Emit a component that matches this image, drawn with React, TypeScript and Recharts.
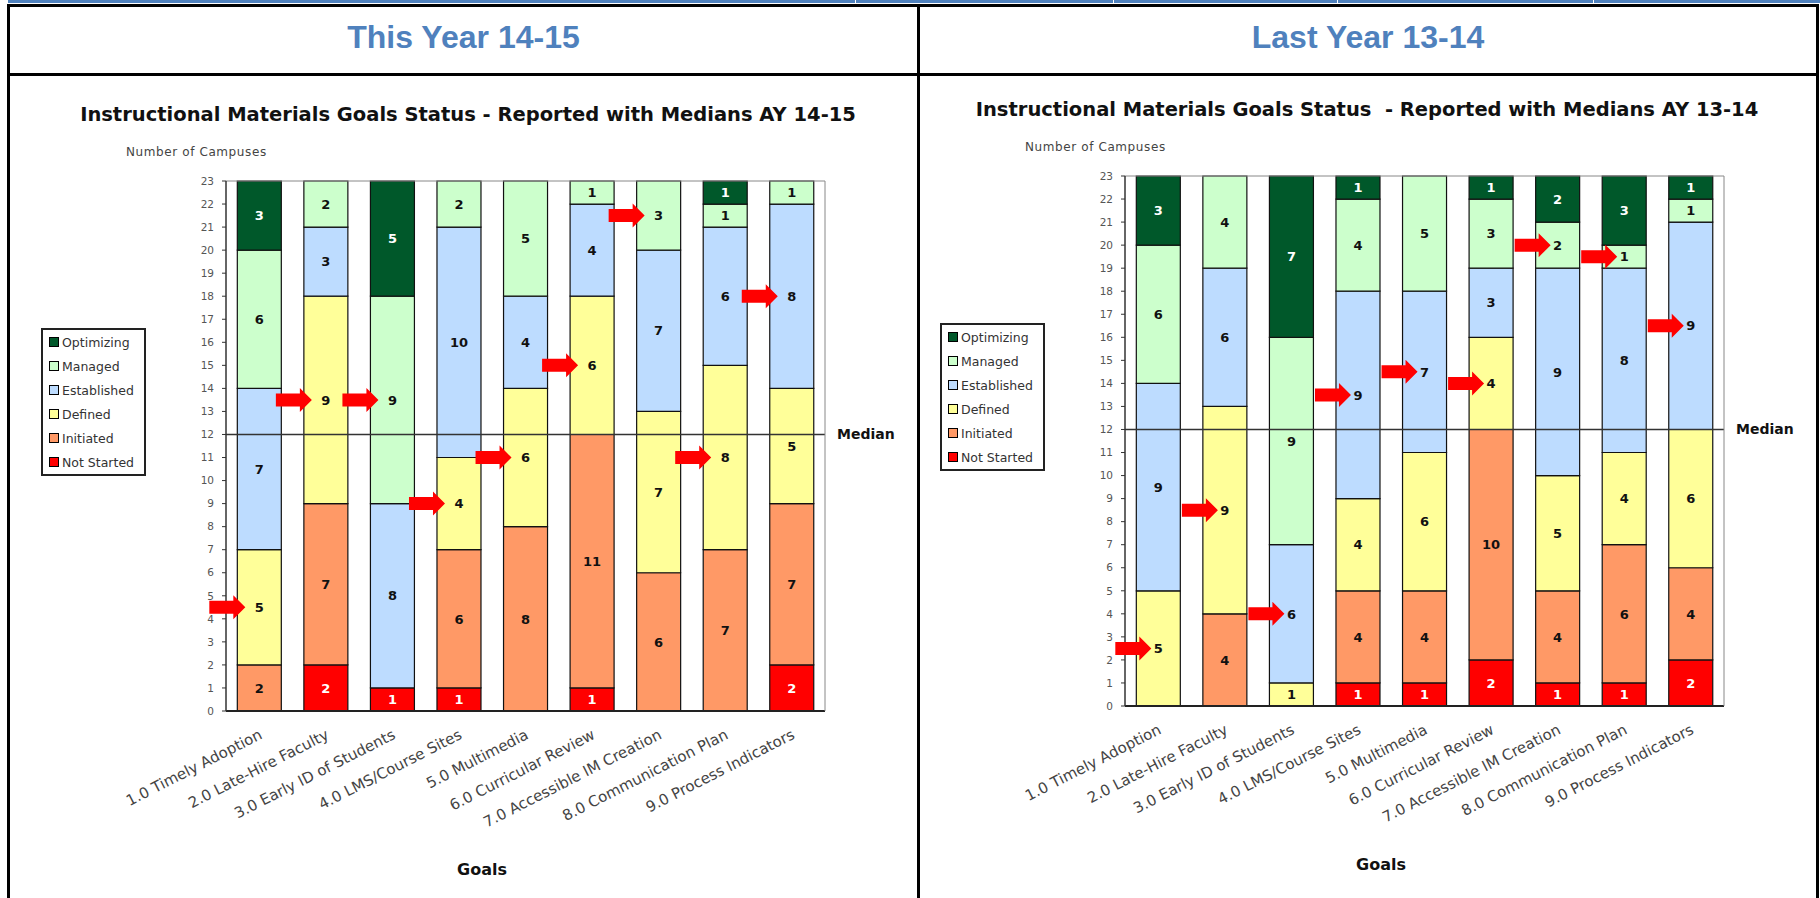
import React from 'react';
import { BarChart, Bar, XAxis, YAxis, Legend, ReferenceLine, LabelList } from 'recharts';

// goals on the x axis (same for both years)
const goals = [
  '1.0 Timely Adoption',
  '2.0 Late-Hire Faculty',
  '3.0 Early ID of Students',
  '4.0 LMS/Course Sites',
  '5.0 Multimedia',
  '6.0 Curricular Review',
  '7.0 Accessible IM Creation',
  '8.0 Communication Plan',
  '9.0 Process Indicators',
];

// AY 14-15
const notStarted1415 = [0, 2, 1, 1, 0, 1, 0, 0, 2];
const initiated1415 = [2, 7, 0, 6, 8, 11, 6, 7, 7];
const defined1415 = [5, 9, 0, 4, 6, 6, 7, 8, 5];
const established1415 = [7, 3, 8, 10, 4, 4, 7, 6, 8];
const managed1415 = [6, 2, 9, 2, 5, 1, 3, 1, 1];
const optimizing1415 = [3, 0, 5, 0, 0, 0, 0, 1, 0];
const medians1415 = ['Defined', 'Defined', 'Managed', 'Defined', 'Defined', 'Defined', 'Managed', 'Defined', 'Established'];

// AY 13-14
const notStarted1314 = [0, 0, 0, 1, 1, 2, 1, 1, 2];
const initiated1314 = [0, 4, 0, 4, 4, 10, 4, 6, 4];
const defined1314 = [5, 9, 1, 4, 6, 4, 5, 4, 6];
const established1314 = [9, 6, 6, 9, 7, 3, 9, 8, 9];
const managed1314 = [6, 4, 9, 4, 5, 3, 2, 1, 1];
const optimizing1314 = [3, 0, 7, 1, 0, 1, 2, 3, 1];
const medians1314 = ['Defined', 'Defined', 'Established', 'Established', 'Established', 'Defined', 'Managed', 'Managed', 'Established'];

const yTicks = [0, 1, 2, 3, 4, 5, 6, 7, 8, 9, 10, 11, 12, 13, 14, 15, 16, 17, 18, 19, 20, 21, 22, 23];
const medianValue = 12;

const FONT = '"DejaVu Sans", Verdana, sans-serif';

const seriesStyle = [
  { key: 'notStarted', name: 'Not Started', fill: '#FF0000', text: '#FFFFFF' },
  { key: 'initiated', name: 'Initiated', fill: '#FF9966', text: '#111111' },
  { key: 'defined', name: 'Defined', fill: '#FFFF99', text: '#111111' },
  { key: 'established', name: 'Established', fill: '#BDDCFF', text: '#111111' },
  { key: 'managed', name: 'Managed', fill: '#CCFFCC', text: '#111111' },
  { key: 'optimizing', name: 'Optimizing', fill: '#00582A', text: '#FFFFFF' },
];

const buildRows = (ns: number[], ini: number[], def: number[], est: number[], man: number[], opt: number[], med: string[]) =>
  goals.map((goal, i) => ({
    goal,
    notStarted: ns[i],
    initiated: ini[i],
    defined: def[i],
    established: est[i],
    managed: man[i],
    optimizing: opt[i],
    median: med[i],
  }));

const rows1415 = buildRows(notStarted1415, initiated1415, defined1415, established1415, managed1415, optimizing1415, medians1415);
const rows1314 = buildRows(notStarted1314, initiated1314, defined1314, established1314, managed1314, optimizing1314, medians1314);
const boundaryTicks = goals.map((_, i) => i).concat(goals.length);

// value comes in as "count|arrowFlag"
const SegmentLabel = (props: any) => {
  const { value, arrowGap, color } = props;
  const [count, flag] = String(value).split('|');
  if (!count || count === '0') return null;
  const vb = props.viewBox && props.viewBox.width != null ? props.viewBox : props;
  const cx = vb.x + vb.width / 2;
  const cy = vb.y + vb.height / 2;
  const tip = cx - arrowGap;
  return (
    <g>
      {flag === '1' && (
        <polygon
          points={`${tip - 36},${cy - 6.5} ${tip - 12},${cy - 6.5} ${tip - 12},${cy - 12} ${tip},${cy} ${tip - 12},${cy + 12} ${tip - 12},${cy + 6.5} ${tip - 36},${cy + 6.5}`}
          fill="#FF0000"
        />
      )}
      <text x={cx} y={cy} dy="0.36em" textAnchor="middle" fill={color} fontSize={13} fontWeight="bold" fontFamily={FONT}>
        {count}
      </text>
    </g>
  );
};

const GoalTick = ({ x, y, payload }: any) => (
  <text transform={`translate(${x + 4},${y + 26}) rotate(-27)`} textAnchor="end" fontSize={15} fill="#444" fontFamily={FONT}>
    {payload.value}
  </text>
);

const renderLegend = () => {
  const items = [...seriesStyle].reverse();
  return (
    <div style={{ border: '2px solid #222', background: '#fff', width: 105, boxSizing: 'border-box', paddingLeft: 6 }}>
      {items.map((it) => (
        <div key={it.key} style={{ display: 'flex', alignItems: 'center', height: 24, fontSize: 12.5, color: '#333', fontFamily: FONT }}>
          <span style={{ width: 8, height: 8, border: '1px solid #000', background: it.fill, marginRight: 3, display: 'inline-block' }} />
          {it.name}
        </div>
      ))}
    </div>
  );
};

const Panel = ({ left, top, title, rows, arrowGap }: any) => (
  <div style={{ position: 'absolute', left, top, width: 900, height: 898 }}>
    <div style={{ position: 'absolute', left: 0, width: 936, top: 103, lineHeight: '24px', textAlign: 'center', fontFamily: FONT, fontSize: 19.5, fontWeight: 'bold', color: '#111', whiteSpace: 'pre' }}>
      {title}
    </div>
    <div style={{ position: 'absolute', left: 126, top: 144, lineHeight: '16px', fontFamily: FONT, fontSize: 12, letterSpacing: 0.6, color: '#444' }}>
      Number of Campuses
    </div>
    <div style={{ position: 'absolute', left: 5, top: 77 }}>
      <BarChart width={900} height={816} data={rows} margin={{ top: 104, right: 79, left: 191, bottom: 61 }} barCategoryGap="17%">
        <XAxis xAxisId={0} type="number" domain={[0, goals.length]} ticks={boundaryTicks} tick={false} height={1} tickSize={6} axisLine={{ stroke: '#222', strokeWidth: 2 }} tickLine={{ stroke: '#222', strokeWidth: 1.5 }} />
        <XAxis xAxisId={1} dataKey="goal" interval={0} height={120} tick={<GoalTick />} tickSize={0} tickMargin={0} axisLine={false} tickLine={false} />
        <YAxis domain={[0, 23]} ticks={yTicks} interval={0} width={30} tickSize={4} tickMargin={8} tick={{ fontSize: 10.5, fill: '#555', fontFamily: FONT }} axisLine={{ stroke: '#333', strokeWidth: 1.5 }} tickLine={{ stroke: '#333' }} />
        <YAxis yAxisId="frame" orientation="right" domain={[0, 23]} width={1} tick={false} tickLine={false} axisLine={{ stroke: '#888' }} />
        <ReferenceLine y={23} stroke="#888" />
        <Legend layout="vertical" align="center" verticalAlign="middle" content={renderLegend} wrapperStyle={{ left: 36, top: 251, width: 105, height: 'auto' }} />
        {seriesStyle.map((s) => (
          <Bar key={s.key} xAxisId={1} dataKey={s.key} name={s.name} stackId="status" fill={s.fill} stroke="#111" strokeWidth={1.2} isAnimationActive={false}>
            <LabelList
              dataKey={(row: any) => `${row[s.key]}|${row.median === s.name ? 1 : 0}`}
              content={(p: any) => <SegmentLabel {...p} arrowGap={arrowGap} color={s.text} />}
            />
          </Bar>
        ))}
        <ReferenceLine
          y={medianValue}
          stroke="#333"
          strokeWidth={1.5}
          label={{ value: 'Median', position: 'right', offset: 12, fill: '#111', fontSize: 14, fontWeight: 'bold', fontFamily: FONT }}
        />
      </BarChart>
    </div>
    <div style={{ position: 'absolute', left: 432, width: 100, top: 860, lineHeight: '20px', textAlign: 'center', fontFamily: FONT, fontSize: 16, fontWeight: 'bold', color: '#111' }}>
      Goals
    </div>
  </div>
);

const line = (style: React.CSSProperties) => <div style={{ position: 'absolute', background: '#000', ...style }} />;

export default function App() {
  return (
    <div style={{ position: 'absolute', left: 0, top: 0, width: 1820, height: 898, background: '#fff', overflow: 'hidden' }}>
      <div style={{ position: 'absolute', left: 8, top: 0, width: 1812, height: 3, background: '#4F81BD' }} />
      {[855, 1113, 1337, 1593].map((x) => (
        <div key={x} style={{ position: 'absolute', left: x, top: 0, width: 1, height: 3, background: '#fff' }} />
      ))}

      <div style={{ position: 'absolute', left: 10, width: 907, top: 17, lineHeight: '40px', textAlign: 'center', fontFamily: '"Liberation Sans", Arial, sans-serif', fontSize: 32, fontWeight: 'bold', color: '#4F81BD' }}>
        This Year 14-15
      </div>
      <div style={{ position: 'absolute', left: 920, width: 896, top: 17, lineHeight: '40px', textAlign: 'center', fontFamily: '"Liberation Sans", Arial, sans-serif', fontSize: 32, fontWeight: 'bold', color: '#4F81BD' }}>
        Last Year 13-14
      </div>

      <Panel left={0} top={0} title="Instructional Materials Goals Status - Reported with Medians AY 14-15" rows={rows1415} arrowGap={14} />
      <Panel left={899} top={-5} title="Instructional Materials Goals Status  - Reported with Medians AY 13-14" rows={rows1314} arrowGap={7} />

      {line({ left: 7, top: 4, width: 1812, height: 3 })}
      {line({ left: 7, top: 73, width: 1812, height: 3 })}
      {line({ left: 7, top: 4, width: 3, height: 894 })}
      {line({ left: 917, top: 4, width: 3, height: 894 })}
      {line({ left: 1816, top: 4, width: 3, height: 894 })}
    </div>
  );
}
